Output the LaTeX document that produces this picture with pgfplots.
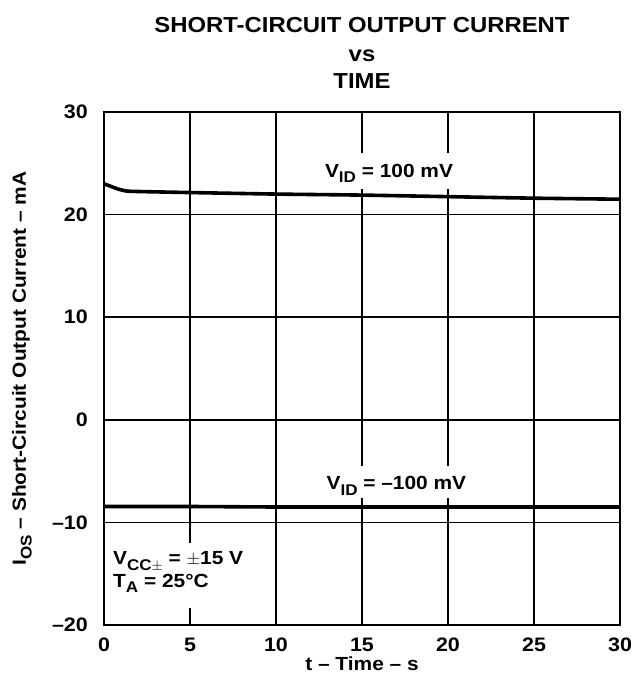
\documentclass[border=0pt]{standalone}
\usepackage{pgfplots}
\pgfplotsset{compat=1.18}
\usepackage{fontspec}
\setmainfont{Liberation Sans}[FakeStretch=1.1]
\newcommand\sub[1]{\raisebox{-0.3em}{\fontsize{15.5}{15.5}\selectfont #1}}
\begin{document}
\begin{tikzpicture}[x=1pt,y=1pt, every node/.style={font=\fontsize{19}{22}\selectfont\bfseries}]
\path[use as bounding box] (-104,-62) rectangle (530,625);
\begin{axis}[
  at={(0,0)}, anchor=south west,
  scale only axis, width=516pt, height=513pt,
  xmin=0, xmax=30, ymin=-20, ymax=30,
  xtick={0,5,...,30}, ytick={-20,-10,...,30},
  grid=major,
  major grid style={black, line width=1.6pt},
  axis line style={black, line width=2.8pt},
  major tick length=0pt,
  ticklabel style={font=\fontsize{19.5}{22}\selectfont\bfseries, inner sep=0pt},
  /pgf/number format/assume math mode=true,
  yticklabel={\ifdim\tick pt<0pt \textendash\pgfmathparse{-\tick}\pgfmathprintnumber[assume math mode=true]{\pgfmathresult}\else\pgfmathprintnumber[assume math mode=true]{\tick}\fi},
  xticklabel style={anchor=base, yshift=-26.5pt},
  yticklabel style={anchor=east, xshift=-16pt},
  clip=false,
]
\fill[white] (axis cs:12.4,22.45) rectangle (axis cs:20.9,26.0);
\fill[white] (axis cs:12.6,-4.5) rectangle (axis cs:21.6,-7.6);
\fill[white] (axis cs:0.15,-12.0) rectangle (axis cs:8.6,-18.3);
\node[anchor=base, inner sep=0pt] at (axis cs:16.57,23.66) {V\sub{ID} = 100 mV};
\node[anchor=base, inner sep=0pt] at (axis cs:17.0,-6.84) {V\sub{ID} = \textendash100 mV};
\node[anchor=base west, inner sep=0pt] at (axis cs:0.52,-14.15) {V\sub{CC$\pm$} = $\pm$15 V};
\node[anchor=base west, inner sep=0pt] at (axis cs:0.52,-16.3) {T\sub{A} = 25\textdegree C};
\addplot[black, line width=3.6pt, smooth, tension=0.4] coordinates {
(0,23.0) (0.4,22.75) (0.8,22.5) (1.3,22.3) (2,22.25) (5,22.15) (10,22.0) (15,21.9) (20,21.75) (25,21.6) (30,21.5)};
\addplot[black, line width=3.6pt] coordinates {
(0,-8.45) (5,-8.45) (10,-8.5) (15,-8.5) (20,-8.5) (25,-8.5) (30,-8.5)};
\end{axis}
\node[anchor=base, inner sep=0pt] at (258,-45) {t \textendash\ Time \textendash\ s};
\node[rotate=90] at (-82,256.5) {I\sub{OS} \textendash\ Short-Circuit Output Current \textendash\ mA};
\node[anchor=base, font=\fontsize{21.7}{24}\selectfont\bfseries] at (258,592) {SHORT-CIRCUIT OUTPUT CURRENT};
\node[anchor=base, font=\fontsize{21.7}{24}\selectfont\bfseries] at (258,563) {vs};
\node[anchor=base, font=\fontsize{21.7}{24}\selectfont\bfseries] at (258,536) {TIME};
\end{tikzpicture}
\end{document}
